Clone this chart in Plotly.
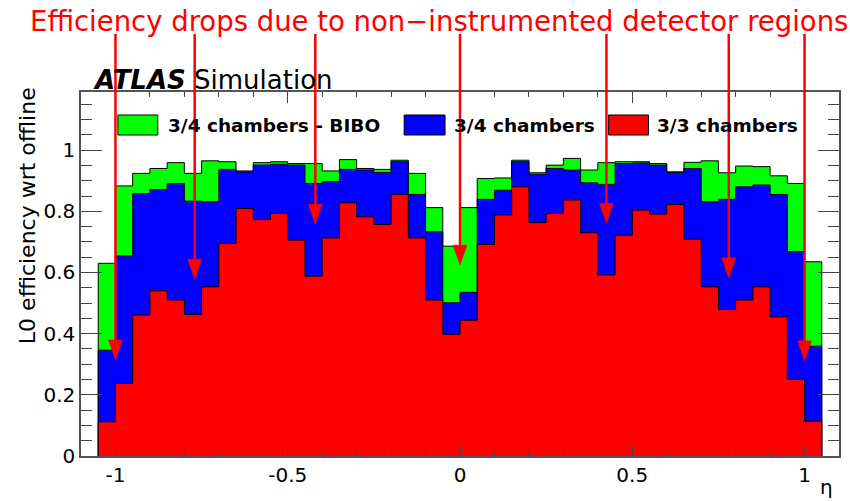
import numpy as np
import plotly.graph_objects as go

# ---------------- data ----------------
eta_first_edge = -1.05
eta_bin_width = 0.05
n_bins = 42

eff_34_bibo = [0.630, 0.883, 0.924, 0.940, 0.959, 0.924, 0.965, 0.962, 0.932, 0.959,
               0.962, 0.956, 0.956, 0.932, 0.969, 0.940, 0.937, 0.967, 0.924, 0.812,
               0.686, 0.812, 0.907, 0.909, 0.967, 0.926, 0.951, 0.973, 0.935, 0.959,
               0.962, 0.962, 0.956, 0.929, 0.960, 0.965, 0.926, 0.948, 0.946, 0.916,
               0.891, 0.635]
eff_34 = [0.346, 0.654, 0.858, 0.871, 0.891, 0.833, 0.831, 0.937, 0.929, 0.951,
          0.954, 0.951, 0.891, 0.897, 0.937, 0.935, 0.927, 0.962, 0.855, 0.733,
          0.501, 0.535, 0.839, 0.869, 0.962, 0.921, 0.940, 0.935, 0.893, 0.888,
          0.956, 0.958, 0.951, 0.927, 0.940, 0.831, 0.839, 0.880, 0.886, 0.855,
          0.668, 0.359]
eff_33 = [0.112, 0.237, 0.461, 0.540, 0.510, 0.463, 0.553, 0.695, 0.809, 0.773,
          0.793, 0.706, 0.588, 0.713, 0.828, 0.782, 0.757, 0.855, 0.713, 0.510,
          0.398, 0.444, 0.692, 0.788, 0.880, 0.763, 0.793, 0.837, 0.730, 0.592,
          0.722, 0.804, 0.791, 0.822, 0.709, 0.553, 0.479, 0.510, 0.553, 0.455,
          0.251, 0.114]

series_names = ["3/4 chambers - BIBO", "3/4 chambers", "3/3 chambers"]
series_colors = ["#00ff00", "#0000ff", "#ff0000"]

x_tick_vals = [-1, -0.5, 0, 0.5, 1]
x_tick_text = ["-1", "-0.5", "0", "0.5", "1"]
y_tick_vals = [0, 0.2, 0.4, 0.6, 0.8, 1.0]
y_tick_text = ["0", "0.2", "0.4", "0.6", "0.8", "1"]

# arrows: eta position and efficiency pointed at
arrow_eta = [-1.0, -0.77, -0.42, 0.0, 0.425, 0.78, 1.0]
arrow_tip = [0.314, 0.578, 0.758, 0.624, 0.761, 0.582, 0.311]

title_text = "Efficiency drops due to non\u2212instrumented detector regions"

# ---------------- layout geometry ----------------
W, H = 850, 501
ML, MR, MT, MB = 81, 9, 92, 45
PW, PH = W - ML - MR, H - MT - MB
XR = [-1.1, 1.1]
YR = [0.0, 1.19]
FONT = "DejaVu Sans"


def px_x(p):
    return (p - ML) / PW


def px_y(p):
    return (H - MB - p) / PH


def data_x(v):
    return (v - XR[0]) / (XR[1] - XR[0])


def data_y(v):
    return (v - YR[0]) / (YR[1] - YR[0])


edges = np.round(eta_first_edge + eta_bin_width * np.arange(n_bins + 1), 4)

fig = go.Figure()
for vals, name, col in zip([eff_34_bibo, eff_34, eff_33], series_names, series_colors):
    xs = [edges[0]] + list(edges) + [edges[-1]]
    ys = [0] + list(vals) + [vals[-1], 0]
    fig.add_trace(go.Scatter(
        x=xs, y=ys, mode="lines", line=dict(shape="hv", color="black", width=1),
        fill="tozeroy", fillcolor=col, name=name, showlegend=False,
        hoverinfo="skip"))

shapes = []
annotations = []

# legend (drawn manually, ROOT style)
legend_items = [(118, 158, 166), (405, 446, 453), (610, 650, 657)]
for (b0, b1, tx), name, col in zip(legend_items, series_names, series_colors):
    shapes.append(dict(type="rect", xref="paper", yref="paper",
                       x0=px_x(b0), x1=px_x(b1), y0=px_y(135), y1=px_y(115),
                       fillcolor=col, line=dict(color="black", width=1)))
    annotations.append(dict(text="<b>%s</b>" % name, xref="paper", yref="paper",
                            x=px_x(tx), y=px_y(125), xanchor="left", yanchor="middle",
                            showarrow=False, font=dict(family=FONT, size=18.5, color="black")))

# arrows
for ex, tip in zip(arrow_eta, arrow_tip):
    xp = data_x(ex)
    yt = data_y(tip)
    head = 20 / PH
    hw = 7 / PW
    shapes.append(dict(type="line", xref="paper", yref="paper",
                       x0=xp, x1=xp, y0=px_y(34), y1=yt + head * 0.6,
                       line=dict(color="#ff0000", width=2.5)))
    shapes.append(dict(type="path", xref="paper", yref="paper",
                       path="M %f,%f L %f,%f L %f,%f Z" % (xp - hw, yt + head, xp + hw, yt + head, xp, yt),
                       fillcolor="#ff0000", line=dict(color="#ff0000", width=0.5)))

annotations.append(dict(text=title_text, xref="paper", yref="paper",
                        x=px_x(440), y=px_y(21), xanchor="center", yanchor="middle",
                        showarrow=False, font=dict(family=FONT, size=27.5, color="#ff0000")))
annotations.append(dict(text="<b><i>ATLAS</i></b> Simulation", xref="paper", yref="paper",
                        x=px_x(91), y=px_y(80), xanchor="left", yanchor="middle",
                        showarrow=False, font=dict(family=FONT, size=26, color="black")))
annotations.append(dict(text="L0 efficiency wrt offline", xref="paper", yref="paper",
                        x=px_x(27), y=px_y(216), xanchor="center", yanchor="middle",
                        textangle=-90, showarrow=False,
                        font=dict(family=FONT, size=22, color="black")))
annotations.append(dict(text="\u03b7", xref="paper", yref="paper",
                        x=px_x(828), y=px_y(487), xanchor="center", yanchor="middle",
                        showarrow=False, font=dict(family=FONT, size=20, color="black")))

axis_common = dict(showgrid=False, zeroline=False, showline=True, linecolor="#555555",
                   linewidth=1.5, mirror="ticks", ticks="inside", tickcolor="#444444",
                   tickfont=dict(family=FONT, size=20, color="black"))

fig.update_layout(
    width=W, height=H,
    margin=dict(l=ML, r=MR, t=MT, b=MB, pad=0),
    paper_bgcolor="white", plot_bgcolor="white",
    showlegend=False,
    xaxis=dict(range=XR, tickvals=x_tick_vals, ticktext=x_tick_text, ticklen=11, tickwidth=1.2,
               minor=dict(dtick=0.1, tick0=0, ticklen=5.5, ticks="inside", tickcolor="#444444", tickwidth=1),
               **axis_common),
    yaxis=dict(range=YR, tickvals=y_tick_vals, ticktext=y_tick_text, ticklen=21, tickwidth=1.2,
               minor=dict(dtick=0.05, tick0=0, ticklen=11, ticks="inside", tickcolor="#444444", tickwidth=1),
               **axis_common),
    shapes=shapes,
    annotations=annotations,
)

fig.write_html("out.html")
